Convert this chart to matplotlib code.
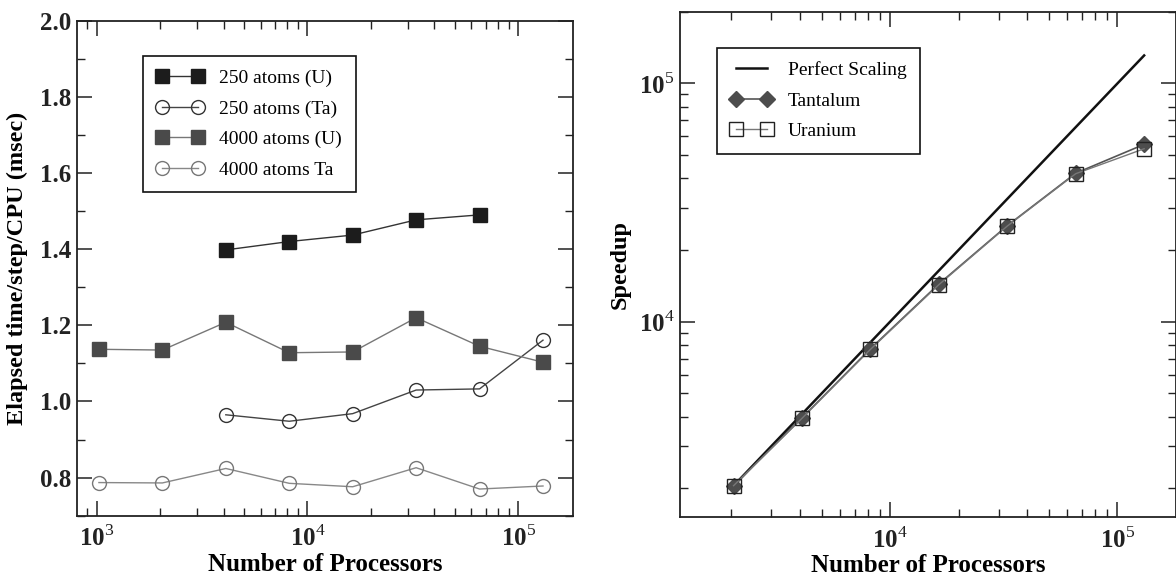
import math
import matplotlib
matplotlib.use('Agg')
import matplotlib.pyplot as plt
from matplotlib.ticker import LogLocator, MultipleLocator, FuncFormatter, NullFormatter, FormatStrFormatter

plt.rcParams['font.family'] = 'serif'
plt.rcParams['font.serif'] = ['Liberation Serif', 'DejaVu Serif']
plt.rcParams['mathtext.fontset'] = 'custom'
plt.rcParams['mathtext.rm'] = 'Liberation Serif'
plt.rcParams['mathtext.bf'] = 'Liberation Serif:bold'

# left panel: elapsed time per step per CPU (msec)
procs = [1024, 2048, 4096, 8192, 16384, 32768, 65536, 131072]
procs_u250 = [4096, 8192, 16384, 32768, 65536]
u250 = [1.398, 1.420, 1.437, 1.477, 1.490]
procs_ta250 = [4096, 8192, 16384, 32768, 65536, 131072]
ta250 = [0.965, 0.948, 0.968, 1.030, 1.033, 1.161]
u4000 = [1.137, 1.135, 1.208, 1.128, 1.130, 1.220, 1.145, 1.103]
ta4000 = [0.787, 0.786, 0.824, 0.785, 0.776, 0.826, 0.770, 0.778]

# right panel: speedup
sp_procs = [2048, 4096, 8192, 16384, 32768, 65536, 131072]
perfect = [2048, 4096, 8192, 16384, 32768, 65536, 131072]
tantalum = [2050, 3950, 7700, 14400, 25300, 42000, 55500]
uranium = [2050, 3930, 7650, 14300, 25200, 41800, 53200]


def pow_label(v, pos):
    e = int(round(math.log10(v)))
    return r'$\mathbf{10}^{%d}$' % e


def style_axes(ax):
    for sp in ax.spines.values():
        sp.set_linewidth(1.3)
        sp.set_color('#222222')
    ax.tick_params(which='both', direction='in', top=True, right=True, colors='#222222')
    ax.tick_params(which='major', length=11, width=1.1, labelsize=18)
    ax.tick_params(which='minor', length=6, width=1.0)
    ax.tick_params(axis='x', which='major', pad=7)
    ax.tick_params(axis='y', which='major', pad=4)
    for lab in ax.get_yticklabels() + ax.get_xticklabels():
        lab.set_fontweight('bold')


fig = plt.figure(figsize=(11.76, 5.78), dpi=100)
ax1 = fig.add_axes([0.0652, 0.1078, 0.422, 0.8564])
ax2 = fig.add_axes([0.5782, 0.1050, 0.4218, 0.8747])

# ---- left ----
ax1.plot(procs_u250, u250, '-', color='#333333', lw=1.0, marker='s', ms=10,
         mfc='#1c1c1c', mec='#1c1c1c', label='250 atoms (U)')
ax1.plot(procs_ta250, ta250, '-', color='#444444', lw=1.0, marker='o', ms=10,
         mfc='none', mec='#333333', mew=1.0, label='250 atoms (Ta)')
ax1.plot(procs, u4000, '-', color='#777777', lw=1.0, marker='s', ms=10,
         mfc='#4a4a4a', mec='#4a4a4a', label='4000 atoms (U)')
ax1.plot(procs, ta4000, '-', color='#888888', lw=1.0, marker='o', ms=10,
         mfc='none', mec='#777777', mew=1.0, label='4000 atoms Ta')

ax1.set_xscale('log')
ax1.set_xlim(803, 181800)
ax1.set_ylim(0.7, 2.0)
ax1.yaxis.set_major_locator(MultipleLocator(0.2))
ax1.yaxis.set_minor_locator(MultipleLocator(0.1))
ax1.yaxis.set_major_formatter(FormatStrFormatter('%.1f'))
ax1.xaxis.set_major_locator(LogLocator(base=10, numticks=10))
ax1.xaxis.set_minor_locator(LogLocator(base=10, subs=range(2, 10), numticks=10))
ax1.xaxis.set_major_formatter(FuncFormatter(pow_label))
ax1.xaxis.set_minor_formatter(NullFormatter())
style_axes(ax1)
ax1.set_xlabel('Number of Processors', fontsize=18, fontweight='bold', labelpad=1)
ax1.set_ylabel('Elapsed time/step/CPU (msec)', fontsize=17.5, fontweight='bold')
ax1.yaxis.set_label_coords(-0.098, 0.5)

leg1 = ax1.legend(loc='upper left', bbox_to_anchor=(0.133, 0.929), borderaxespad=0,
                  fontsize=14, numpoints=2, handlelength=2.45, handletextpad=0.8,
                  labelspacing=0.66, borderpad=0.7, fancybox=False, framealpha=1,
                  edgecolor='#111111')
leg1.get_frame().set_linewidth(1.2)

# ---- right ----
ax2.plot(sp_procs, perfect, '-', color='#111111', lw=1.8, label='Perfect Scaling')
ax2.plot(sp_procs, tantalum, '-', color='#555555', lw=1.2, marker='D', ms=8,
         mfc='#4d4d4d', mec='#4d4d4d', label='Tantalum')
ax2.plot(sp_procs, uranium, '-', color='#777777', lw=1.0, marker='s', ms=10,
         mfc='none', mec='#222222', mew=1.0, label='Uranium')

ax2.set_xscale('log')
ax2.set_yscale('log')
ax2.set_xlim(1190, 181000)
ax2.set_ylim(1510, 200000)
for axis in (ax2.xaxis, ax2.yaxis):
    axis.set_major_locator(LogLocator(base=10, numticks=10))
    axis.set_minor_locator(LogLocator(base=10, subs=range(2, 10), numticks=10))
    axis.set_major_formatter(FuncFormatter(pow_label))
    axis.set_minor_formatter(NullFormatter())
style_axes(ax2)
ax2.set_xlabel('Number of Processors', fontsize=18, fontweight='bold', labelpad=1)
ax2.set_ylabel('Speedup', fontsize=17.5, fontweight='bold')
ax2.yaxis.set_label_coords(-0.099, 0.5)

leg2 = ax2.legend(loc='upper left', bbox_to_anchor=(0.0747, 0.929), borderaxespad=0,
                  fontsize=14, numpoints=2, handlelength=2.15, handletextpad=0.8,
                  labelspacing=0.66, borderpad=0.7, fancybox=False, framealpha=1,
                  edgecolor='#111111')
leg2.get_frame().set_linewidth(1.2)

fig.savefig('out.png', dpi=100)
